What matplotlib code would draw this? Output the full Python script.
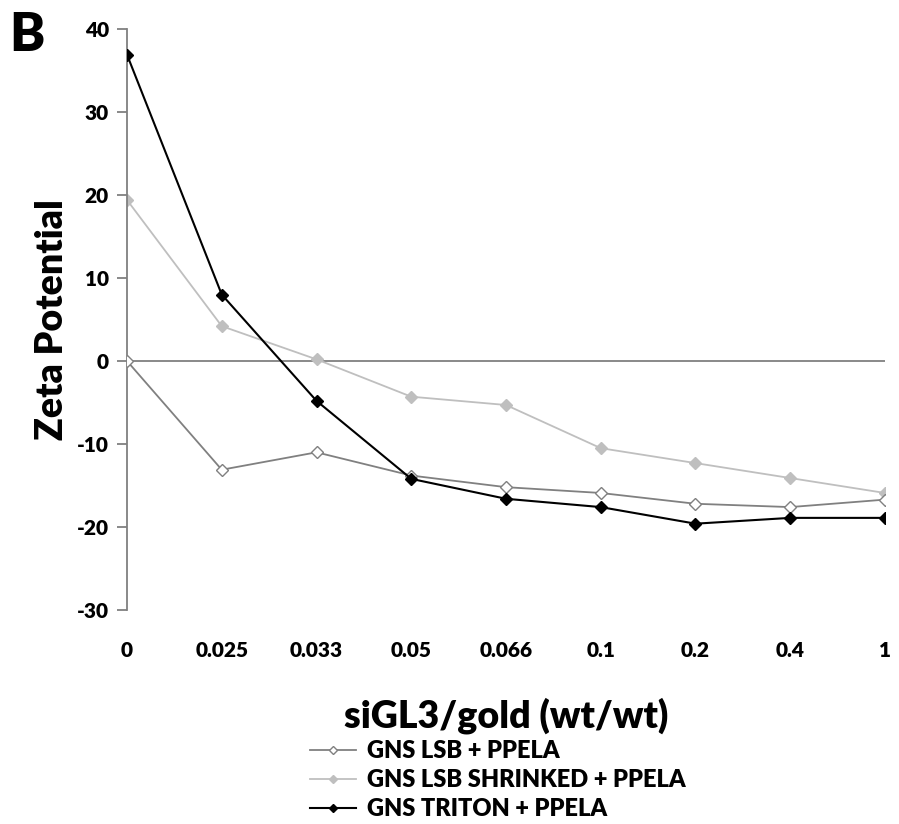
import matplotlib.pyplot as plt
import numpy as np

# siRNA / gold ratios (categorical x axis)
ratios = ['0', '0.025', '0.033', '0.05', '0.066', '0.1', '0.2', '0.4', '1']

# zeta potential (mV) for each formulation
zeta_lsb = [0, -13.1, -11.0, -13.8, -15.2, -15.9, -17.2, -17.6, -16.7]
zeta_shrinked = [19.4, 4.2, 0.2, -4.3, -5.3, -10.5, -12.3, -14.1, -15.9]
zeta_triton = [36.9, 8.0, -4.8, -14.2, -16.6, -17.6, -19.6, -18.9, -18.9]

labels = ['GNS LSB + PPELA', 'GNS LSB SHRINKED + PPELA', 'GNS TRITON + PPELA']

plt.rcParams['font.family'] = ['Lato', 'DejaVu Sans']
plt.rcParams['font.weight'] = 'bold'
plt.rcParams['axes.unicode_minus'] = False

fig = plt.figure(figsize=(8.99, 8.24), dpi=100)
ax = fig.add_axes([0.1413, 0.2597, 0.8431, 0.7051])

x = np.arange(len(ratios))
ax.axhline(0, color='#808080', lw=1.3, zorder=1)

l1, = ax.plot(x, zeta_lsb, color='#808080', lw=1.3, marker='D', ms=6,
              mfc='white', mec='#808080', mew=1.0, zorder=3)
l2, = ax.plot(x, zeta_shrinked, color='#BFBFBF', lw=1.3, marker='D', ms=6,
              mfc='#BFBFBF', mec='#BFBFBF', zorder=2)
l3, = ax.plot(x, zeta_triton, color='black', lw=1.5, marker='D', ms=6,
              mfc='black', mec='black', zorder=4)

ax.set_xlim(0, 8)
ax.set_ylim(-30, 40)
ax.set_yticks(np.arange(-30, 41, 10))
ax.set_xticks(x)
ax.set_xticklabels(ratios)

for s in ['top', 'right', 'bottom']:
    ax.spines[s].set_visible(False)
ax.spines['left'].set_color('#808080')
ax.spines['left'].set_linewidth(1.3)
ax.tick_params(axis='y', direction='out', length=7, width=1.3, color='#808080',
               labelsize=15, pad=6)
ax.tick_params(axis='x', length=0, labelsize=15, pad=22)
for t in ax.get_xticklabels() + ax.get_yticklabels():
    t.set_fontweight('heavy')

ax.set_ylabel('Zeta Potential', fontsize=27, fontweight='heavy', labelpad=6)
ax.set_xlabel('siGL3/gold (wt/wt)', fontsize=27, fontweight='heavy', labelpad=27)

fig.text(0.010, 0.938, 'B', fontsize=38, fontweight='heavy')

fig.legend([l1, l2, l3], labels, loc='upper left', bbox_to_anchor=(0.345, 0.102),
           frameon=False, handlelength=1.95, handletextpad=0.45, markerscale=0.75,
           labelspacing=0.30, borderaxespad=0, borderpad=0,
           prop={'weight': 'heavy', 'size': 17})

fig.savefig('out.png', dpi=100)
